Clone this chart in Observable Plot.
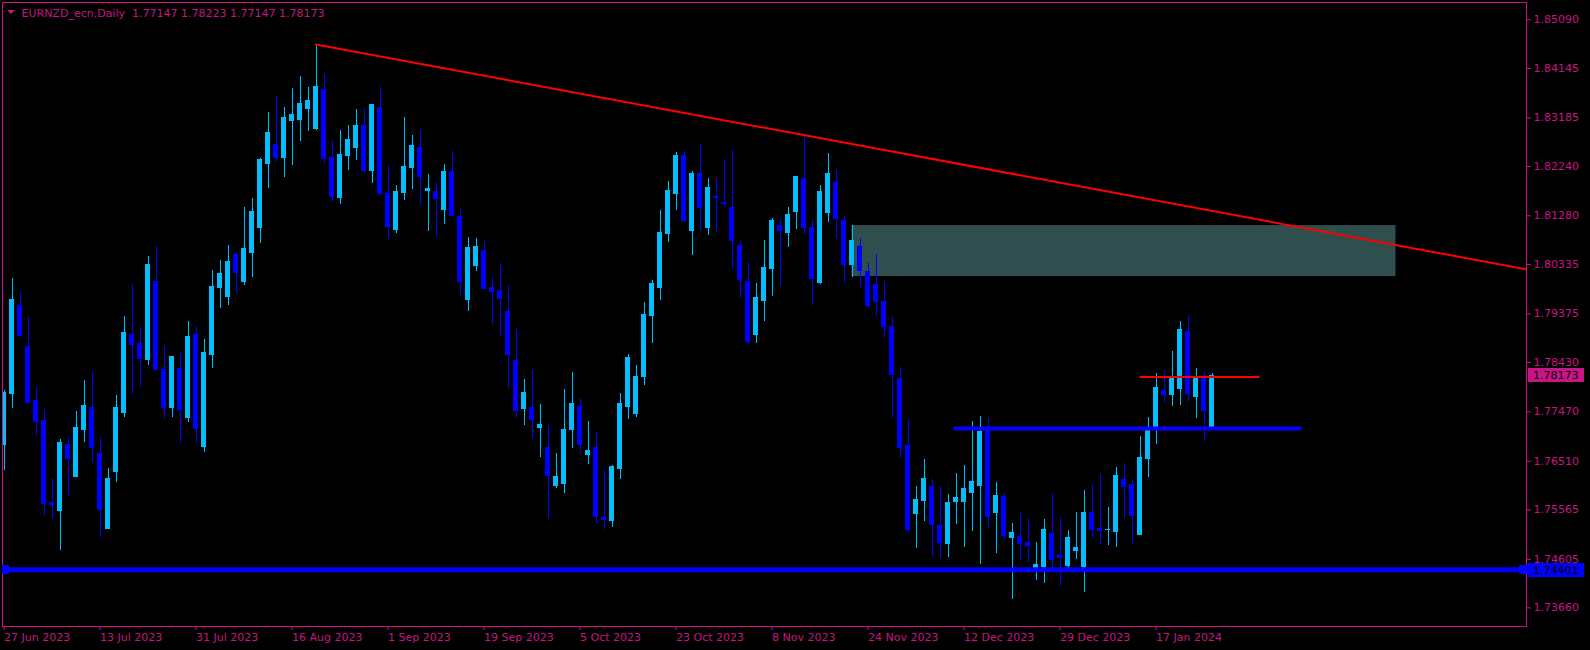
<!DOCTYPE html>
<html><head><meta charset="utf-8">
<script src="https://cdn.jsdelivr.net/npm/d3@7"></script>
<script src="https://cdn.jsdelivr.net/npm/@observablehq/plot@0.6"></script>
<style>html,body{margin:0;padding:0;background:#000;overflow:hidden}</style>
</head><body><div id="chart"></div>
<script>
// ---- data (daily candles, index 0 = 27 Jun 2023) ----
const open = [1.7682,1.7781,1.7952,1.7874,1.7769,1.7730,1.7569,1.7555,1.7682,1.7620,1.7711,1.7755,1.7666,1.7520,1.7631,1.7744,1.7896,1.7878,1.7847,1.8000,
1.7829,1.7754,1.7831,1.7736,1.7897,1.7678,1.7857,1.7987,1.7971,1.8051,1.7999,1.8055,1.8104,1.8228,1.8265,1.8240,1.8313,1.8315,1.8335,1.8296,
1.8372,1.8240,1.8162,1.8245,1.8259,1.8302,1.8216,1.8337,1.8170,1.8100,1.8172,1.8220,1.8259,1.8177,1.8175,1.8139,1.8214,1.8125,1.7964,1.8030,
1.8059,1.7987,1.7981,1.7942,1.7845,1.7752,1.7755,1.7715,1.7676,1.7602,1.7606,1.7711,1.7757,1.7664,1.7676,1.7540,1.7534,1.7635,1.7757,1.7742,
1.7814,1.7934,1.7987,1.8092,1.8170,1.8245,1.8098,1.8209,1.8105,1.8164,1.8152,1.8144,1.8070,1.8000,1.7896,1.7962,1.8024,1.8109,1.8094,1.8135,
1.8199,1.8104,1.7997,1.8133,1.8191,1.8117,1.8032,1.8067,1.8018,1.7993,1.7960,1.7911,1.7810,1.7680,1.7548,1.7573,1.7600,1.7526,1.7491,1.7571,
1.7571,1.7590,1.7602,1.7715,1.7551,1.7581,1.7501,1.7503,1.7493,1.7435,1.7445,1.7509,1.7466,1.7447,1.7476,1.7445,1.7550,1.7520,1.7517,1.7513,
1.7614,1.7604,1.7507,1.7655,1.7717,1.7787,1.7779,1.7791,1.7903,1.7775,1.7810,1.77147];
const high = [1.7789,1.8006,1.7979,1.7932,1.7794,1.7752,1.7618,1.7693,1.7697,1.7748,1.7808,1.7826,1.7697,1.7637,1.7779,1.7932,1.7995,1.7911,1.8049,1.8068,
1.7874,1.7855,1.7861,1.7923,1.7913,1.7888,1.8022,1.8041,1.8070,1.8057,1.8144,1.8162,1.8240,1.8329,1.8360,1.8339,1.8376,1.8399,1.8378,1.8461,
1.8403,1.8274,1.8294,1.8304,1.8335,1.8337,1.8344,1.8378,1.8226,1.8187,1.8319,1.8284,1.8294,1.8209,1.8193,1.8228,1.8253,1.8140,1.8086,1.8084,
1.8078,1.8008,1.8035,1.7993,1.7907,1.7810,1.7827,1.7761,1.7721,1.7666,1.7791,1.7824,1.7773,1.7728,1.7707,1.7633,1.7643,1.7783,1.7859,1.7837,
1.7960,1.8002,1.8139,1.8195,1.8251,1.8253,1.8214,1.8267,1.8201,1.8201,1.8238,1.8255,1.8078,1.8037,1.7997,1.8080,1.8123,1.8121,1.8144,1.8205,
1.8284,1.8121,1.8187,1.8249,1.8216,1.8127,1.8109,1.8084,1.8035,1.8053,1.8000,1.7932,1.7833,1.7732,1.7602,1.7655,1.7616,1.7602,1.7586,1.7627,
1.7643,1.7728,1.7738,1.7734,1.7610,1.7590,1.7530,1.7550,1.7540,1.7493,1.7538,1.7588,1.7542,1.7517,1.7551,1.7594,1.7606,1.7625,1.7561,1.7639,
1.7647,1.7616,1.7699,1.7736,1.7822,1.7826,1.7864,1.7923,1.7934,1.7831,1.7826,1.78223];
const low = [1.7633,1.7754,1.7892,1.7763,1.7699,1.7544,1.7540,1.7478,1.7585,1.7619,1.7687,1.7649,1.7503,1.7519,1.7610,1.7736,1.7781,1.7794,1.7837,1.7827,
1.7732,1.7736,1.7686,1.7726,1.7686,1.7668,1.7831,1.7948,1.7954,1.7977,1.7993,1.8008,1.8074,1.8181,1.8232,1.8203,1.8226,1.8273,1.8292,1.8294,
1.8228,1.8154,1.8150,1.8216,1.8236,1.8210,1.8191,1.8168,1.8082,1.8094,1.8158,1.8179,1.8148,1.8098,1.8086,1.8111,1.8126,1.7973,1.7942,1.8020,
1.7984,1.7915,1.7896,1.7791,1.7734,1.7721,1.7695,1.7658,1.7540,1.7598,1.7588,1.7676,1.7668,1.7645,1.7530,1.7518,1.7522,1.7616,1.7732,1.7736,
1.7798,1.7880,1.7964,1.8076,1.8139,1.8115,1.8051,1.8100,1.8090,1.8096,1.8144,1.8024,1.7967,1.7876,1.7880,1.7923,1.7971,1.7991,1.8067,1.8102,
1.8092,1.7954,1.7995,1.8115,1.8084,1.7997,1.8008,1.7989,1.7948,1.7932,1.7890,1.7734,1.7656,1.7511,1.7482,1.7534,1.7464,1.7462,1.7464,1.7528,
1.7483,1.7515,1.7450,1.7518,1.7472,1.7497,1.7382,1.7458,1.7454,1.7419,1.7413,1.7445,1.7408,1.7439,1.7460,1.7396,1.7503,1.7489,1.7487,1.7483,
1.7540,1.7491,1.7506,1.7620,1.7684,1.7763,1.7757,1.7759,1.7765,1.7734,1.7689,1.77147];
const close = [1.7783,1.7965,1.7894,1.7765,1.7728,1.7567,1.7565,1.7686,1.7656,1.7715,1.7759,1.7676,1.7557,1.7616,1.7754,1.7901,1.7876,1.7849,1.8033,1.7829,
1.7755,1.7854,1.7750,1.7892,1.7713,1.7861,1.7989,1.8014,1.8039,1.8016,1.8063,1.8135,1.8236,1.8288,1.8241,1.8319,1.8323,1.8346,1.8352,1.8379,
1.8238,1.8164,1.8247,1.8276,1.8302,1.8216,1.8343,1.8170,1.8107,1.8175,1.8222,1.8263,1.8203,1.8181,1.8160,1.8214,1.8127,1.7999,1.8065,1.8067,
1.7985,1.7979,1.7967,1.7857,1.7748,1.7783,1.7732,1.7722,1.7623,1.7620,1.7711,1.7763,1.7682,1.7670,1.7542,1.7536,1.7639,1.7763,1.7851,1.7814,
1.7936,1.7995,1.8094,1.8177,1.8245,1.8117,1.8209,1.8144,1.8183,1.8162,1.8150,1.8080,1.8004,1.7882,1.7969,1.8026,1.8117,1.8098,1.8129,1.8203,
1.8104,1.8006,1.8174,1.8210,1.8121,1.8033,1.8080,1.8020,1.7952,1.7960,1.7911,1.7818,1.7676,1.7517,1.7575,1.7616,1.7528,1.7493,1.7569,1.7579,
1.7598,1.7610,1.7707,1.7542,1.7583,1.7505,1.7511,1.7491,1.7487,1.7450,1.7517,1.7460,1.7462,1.7501,1.7483,1.7551,1.7518,1.7515,1.7518,1.7623,
1.7600,1.7544,1.7658,1.7711,1.7794,1.7779,1.7812,1.7907,1.7781,1.7812,1.7748,1.78173];

const dateTickIndex = [0,12,24,36,48,60,72,84,96,108,120,132,144];
const dateTickLabels = ["27 Jun 2023","13 Jul 2023","31 Jul 2023","16 Aug 2023","1 Sep 2023","19 Sep 2023","5 Oct 2023","23 Oct 2023","8 Nov 2023","24 Nov 2023","12 Dec 2023","29 Dec 2023","17 Jan 2024"];
const priceTicks = [1.85090,1.84145,1.83185,1.82240,1.81280,1.80335,1.79375,1.78430,1.77470,1.76510,1.75565,1.74605,1.73660];

const symbolName = "EURNZD_ecn,Daily";
const lastOHLC = [1.77147,1.78223,1.77147,1.78173];

// drawn objects
const trendLine = [{i:39, p:1.8461},{i:190.3, p:1.8024}];
const zone = [{i1:106, i2:174, p1:1.8010, p2:1.8109}];
const supportLine = [{i1:119, i2:162, p:1.77147}];
const resistLine = [{i1:142, i2:157, p:1.78147}];
const bottomLinePrice = 1.74401;
const bidPrice = 1.78173;

// ---- styling ----
const MAG = "#C71585", BULL = "#00BFFF", BEAR = "#0000FF";
const candles = open.map((o,i)=>({i, o, h:high[i], l:low[i], c:close[i]}));
const isUp = d => d.c >= d.o;
const colorOf = d => isUp(d) ? BULL : BEAR;
const halfBody = 0.3125;

const plot = Plot.plot({
  width: 1590, height: 650,
  marginLeft: 2, marginRight: 64, marginTop: 2, marginBottom: 24,
  style: {background: "#000", color: MAG, fontFamily: "DejaVu Sans", fontSize: "11px"},
  x: {type: "linear", domain: [-0.1875, 190.3125], axis: null},
  y: {type: "linear", domain: [1.73298, 1.85426], axis: null},
  marks: [
    Plot.rect(zone, {x1:"i1", x2:"i2", y1:"p1", y2:"p2", fill:"#2F4F4F", clip:true}),
    Plot.ruleX(candles, {x:"i", y1:"l", y2:"h", stroke: colorOf, strokeWidth:1, clip:true, shapeRendering:"crispEdges"}),
    Plot.rect(candles, {x1: d=>d.i-halfBody, x2: d=>d.i+halfBody, y1:"o", y2:"c", fill: colorOf, insetTop:-0.5, insetBottom:-0.5, clip:true, shapeRendering:"crispEdges"}),
    Plot.line(trendLine, {x:"i", y:"p", stroke:"#FF0000", strokeWidth:2, clip:true}),
    Plot.ruleY(supportLine, {x1:"i1", x2:"i2", y:"p", stroke:BEAR, strokeWidth:4, strokeLinecap:"square", clip:true}),
    Plot.ruleY(resistLine, {x1:"i1", x2:"i2", y:"p", stroke:"#FF0000", strokeWidth:2, clip:true}),
    Plot.ruleY([bottomLinePrice], {stroke:BEAR, strokeWidth:5, clip:true}),
    Plot.frame({stroke: MAG, shapeRendering:"crispEdges"}),
    Plot.axisX(dateTickIndex, {anchor:"bottom", tickSize:4, tickPadding:3, textAnchor:"start",
      tickFormat: d => dateTickLabels[dateTickIndex.indexOf(d)], stroke: MAG, fill: MAG}),
    Plot.axisY(priceTicks, {anchor:"right", tickSize:4, tickPadding:3, textAnchor:"start",
      tickFormat: d => d.toFixed(5), stroke: MAG, fill: MAG}),
    Plot.text([symbolName + "\u00A0\u00A0" + lastOHLC.map(v=>v.toFixed(5)).join(" ")],
      {frameAnchor:"top-left", dx:19, dy:7, lineAnchor:"top", textAnchor:"start", fill: MAG})
  ]
});

// decorations: title triangle, price tags, line anchors
const svg = d3.select(plot);
const ys = plot.scale("y");
svg.append("path").attr("d","M7,10L15,10L11,14Z").attr("fill",MAG);
function tag(price, label, bg, off){
  const y = ys.apply(price) + off;
  svg.append("rect").attr("x",1528).attr("y",Math.round(y)-7).attr("width",56).attr("height",14).attr("fill",bg);
  svg.append("text").attr("x",1533).attr("y",Math.round(y)+4).attr("fill","#000")
    .attr("text-anchor","start")
    .attr("font-family","DejaVu Sans").attr("font-size","11px").text(label);
}
tag(bidPrice, bidPrice.toFixed(5), MAG, 0);
tag(bottomLinePrice, bottomLinePrice.toFixed(5), BEAR, 1);
// anchor squares of the selected horizontal line
const yb = Math.round(ys.apply(bottomLinePrice));
svg.append("rect").attr("x",2).attr("y",yb-4).attr("width",7).attr("height",9).attr("fill",BEAR);
svg.append("rect").attr("x",1519).attr("y",yb-4).attr("width",9).attr("height",9).attr("fill",BEAR);

document.getElementById("chart").appendChild(plot);
</script></body></html>
